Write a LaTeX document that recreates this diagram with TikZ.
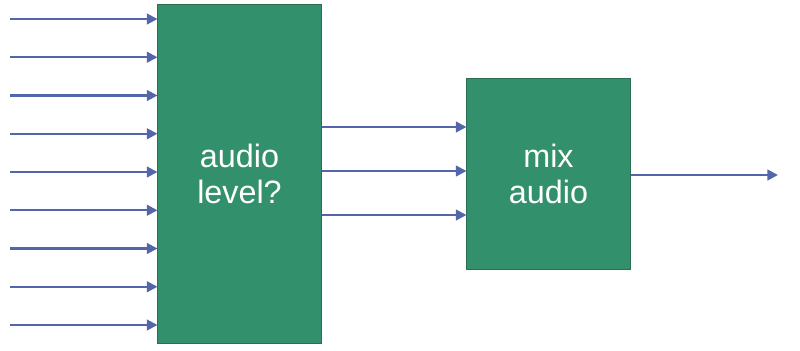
\documentclass[tikz,border=0pt]{standalone}
\usepackage{fontspec}
\setmainfont{Liberation Sans}
\usetikzlibrary{arrows.meta}
\definecolor{boxgreen}{RGB}{51,144,108}
\definecolor{boxedge}{RGB}{44,110,80}
\definecolor{wireblue}{RGB}{84,102,170}
\begin{document}
\begin{tikzpicture}[x=0.025cm,y=-0.025cm, block/.style={draw=boxedge,line width=0.7pt,fill=boxgreen,text=white,minimum width=4.075cm,align=center,font=\fontsize{23}{26}\selectfont}, wire/.style={draw=wireblue,line width=1.6pt,-{Triangle[length=7.5pt,width=7.5pt]}}]
\useasboundingbox (0,0) rectangle (800,350);
\node[block,minimum height=8.45cm] (level) at (239.5,174) {audio\\level?};
\node[block,minimum height=4.75cm] (mix) at (548.5,174) {mix\\audio};
\coordinate (out) at (778,175);
\foreach \i in {0,...,8}
    {\coordinate (in\i) at (10,{19+38.25*\i});
     \draw[wire] (in\i) -- (in\i -| level.west);}
\foreach \y/\n in {127/a,171/b,215/c}
    {\coordinate (lv\n) at (level.east |- 0,\y);
     \draw[wire] (lv\n) -- (lv\n -| mix.west);}
\draw[wire] (mix.east |- out) -- (out);
\end{tikzpicture}
\end{document}
